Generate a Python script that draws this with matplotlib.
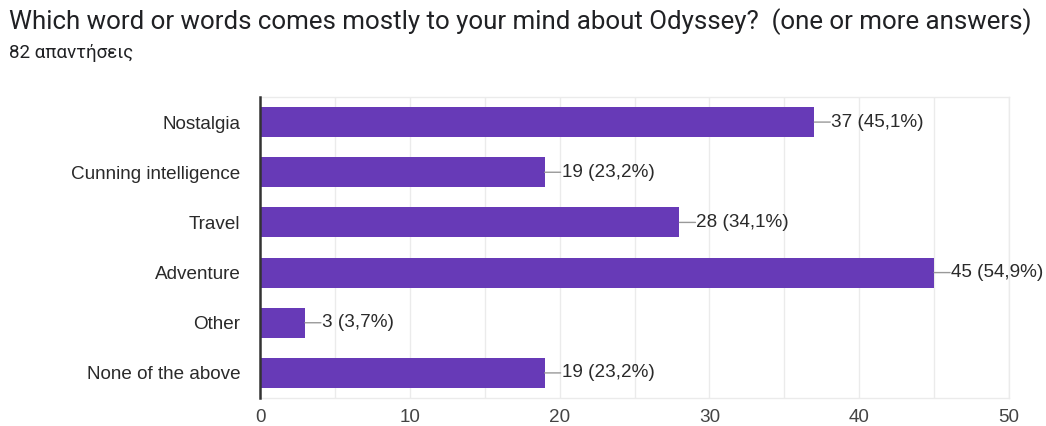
import matplotlib
matplotlib.use("Agg")
import matplotlib.pyplot as plt

categories = ["Nostalgia", "Cunning intelligence", "Travel", "Adventure", "Other", "None of the above"]
counts = [37, 19, 28, 45, 3, 19]
percent_labels = ["45,1%", "23,2%", "34,1%", "54,9%", "3,7%", "23,2%"]
xticks = [0, 10, 20, 30, 40, 50]
title = "Which word or words comes mostly to your mind about Odyssey?  (one or more answers)"
subtitle = "82 απαντήσεις"

fig = plt.figure(figsize=(10.46, 4.26), dpi=100)
ax = fig.add_axes([260/1046, 28/426, (1009-260)/1046, (398-97)/426])

fs = 13.6
ypos = list(range(len(categories)))
ax.barh(ypos, counts, height=0.6, color="#673ab7", zorder=3)
ax.set_ylim(len(categories) - 0.5, -0.5)
ax.set_xlim(0, 50)
ax.set_xticks(xticks)
ax.set_xticks(range(0, 51, 5), minor=True)
ax.set_yticks(ypos)
ax.set_yticklabels(categories, fontsize=fs, color="#2a2a2a", family=["Liberation Sans", "DejaVu Sans"])
ax.set_xticklabels([str(t) for t in xticks], fontsize=fs, color="#444444", family=["Liberation Sans", "DejaVu Sans"])
ax.tick_params(axis="both", which="both", length=0)
ax.tick_params(axis="y", pad=14)
ax.tick_params(axis="x", pad=8)
ax.grid(axis="x", which="both", color="#ebebeb", linewidth=1, zorder=0)
for s in ["top", "right", "bottom"]:
    ax.spines[s].set_color("#ebebeb")
    ax.spines[s].set_linewidth(1)
ax.spines["left"].set_color("#333333")
ax.spines["left"].set_linewidth(1.8)
ax.spines["left"].set_zorder(4)

for y, c, p in zip(ypos, counts, percent_labels):
    ax.annotate("", xy=(c, y), xytext=(16, 0), textcoords="offset pixels",
                arrowprops=dict(arrowstyle="-", color="#999999", lw=1, shrinkA=0, shrinkB=0))
    ax.annotate(f"{c} ({p})", xy=(c, y), xytext=(17, 0), textcoords="offset pixels",
                va="center", ha="left", fontsize=fs, color="#2a2a2a",
                family=["Liberation Sans", "DejaVu Sans"])

fig.text(9/1046, 1 - 22/426, title, fontsize=18.6, color="#202124", va="center", ha="left",
         family=["Roboto", "DejaVu Sans"])
fig.text(9/1046, 1 - 53/426, subtitle, fontsize=13.5, color="#202124", va="center", ha="left",
         family=["Roboto", "DejaVu Sans"])

fig.savefig("out.png", dpi=100)
